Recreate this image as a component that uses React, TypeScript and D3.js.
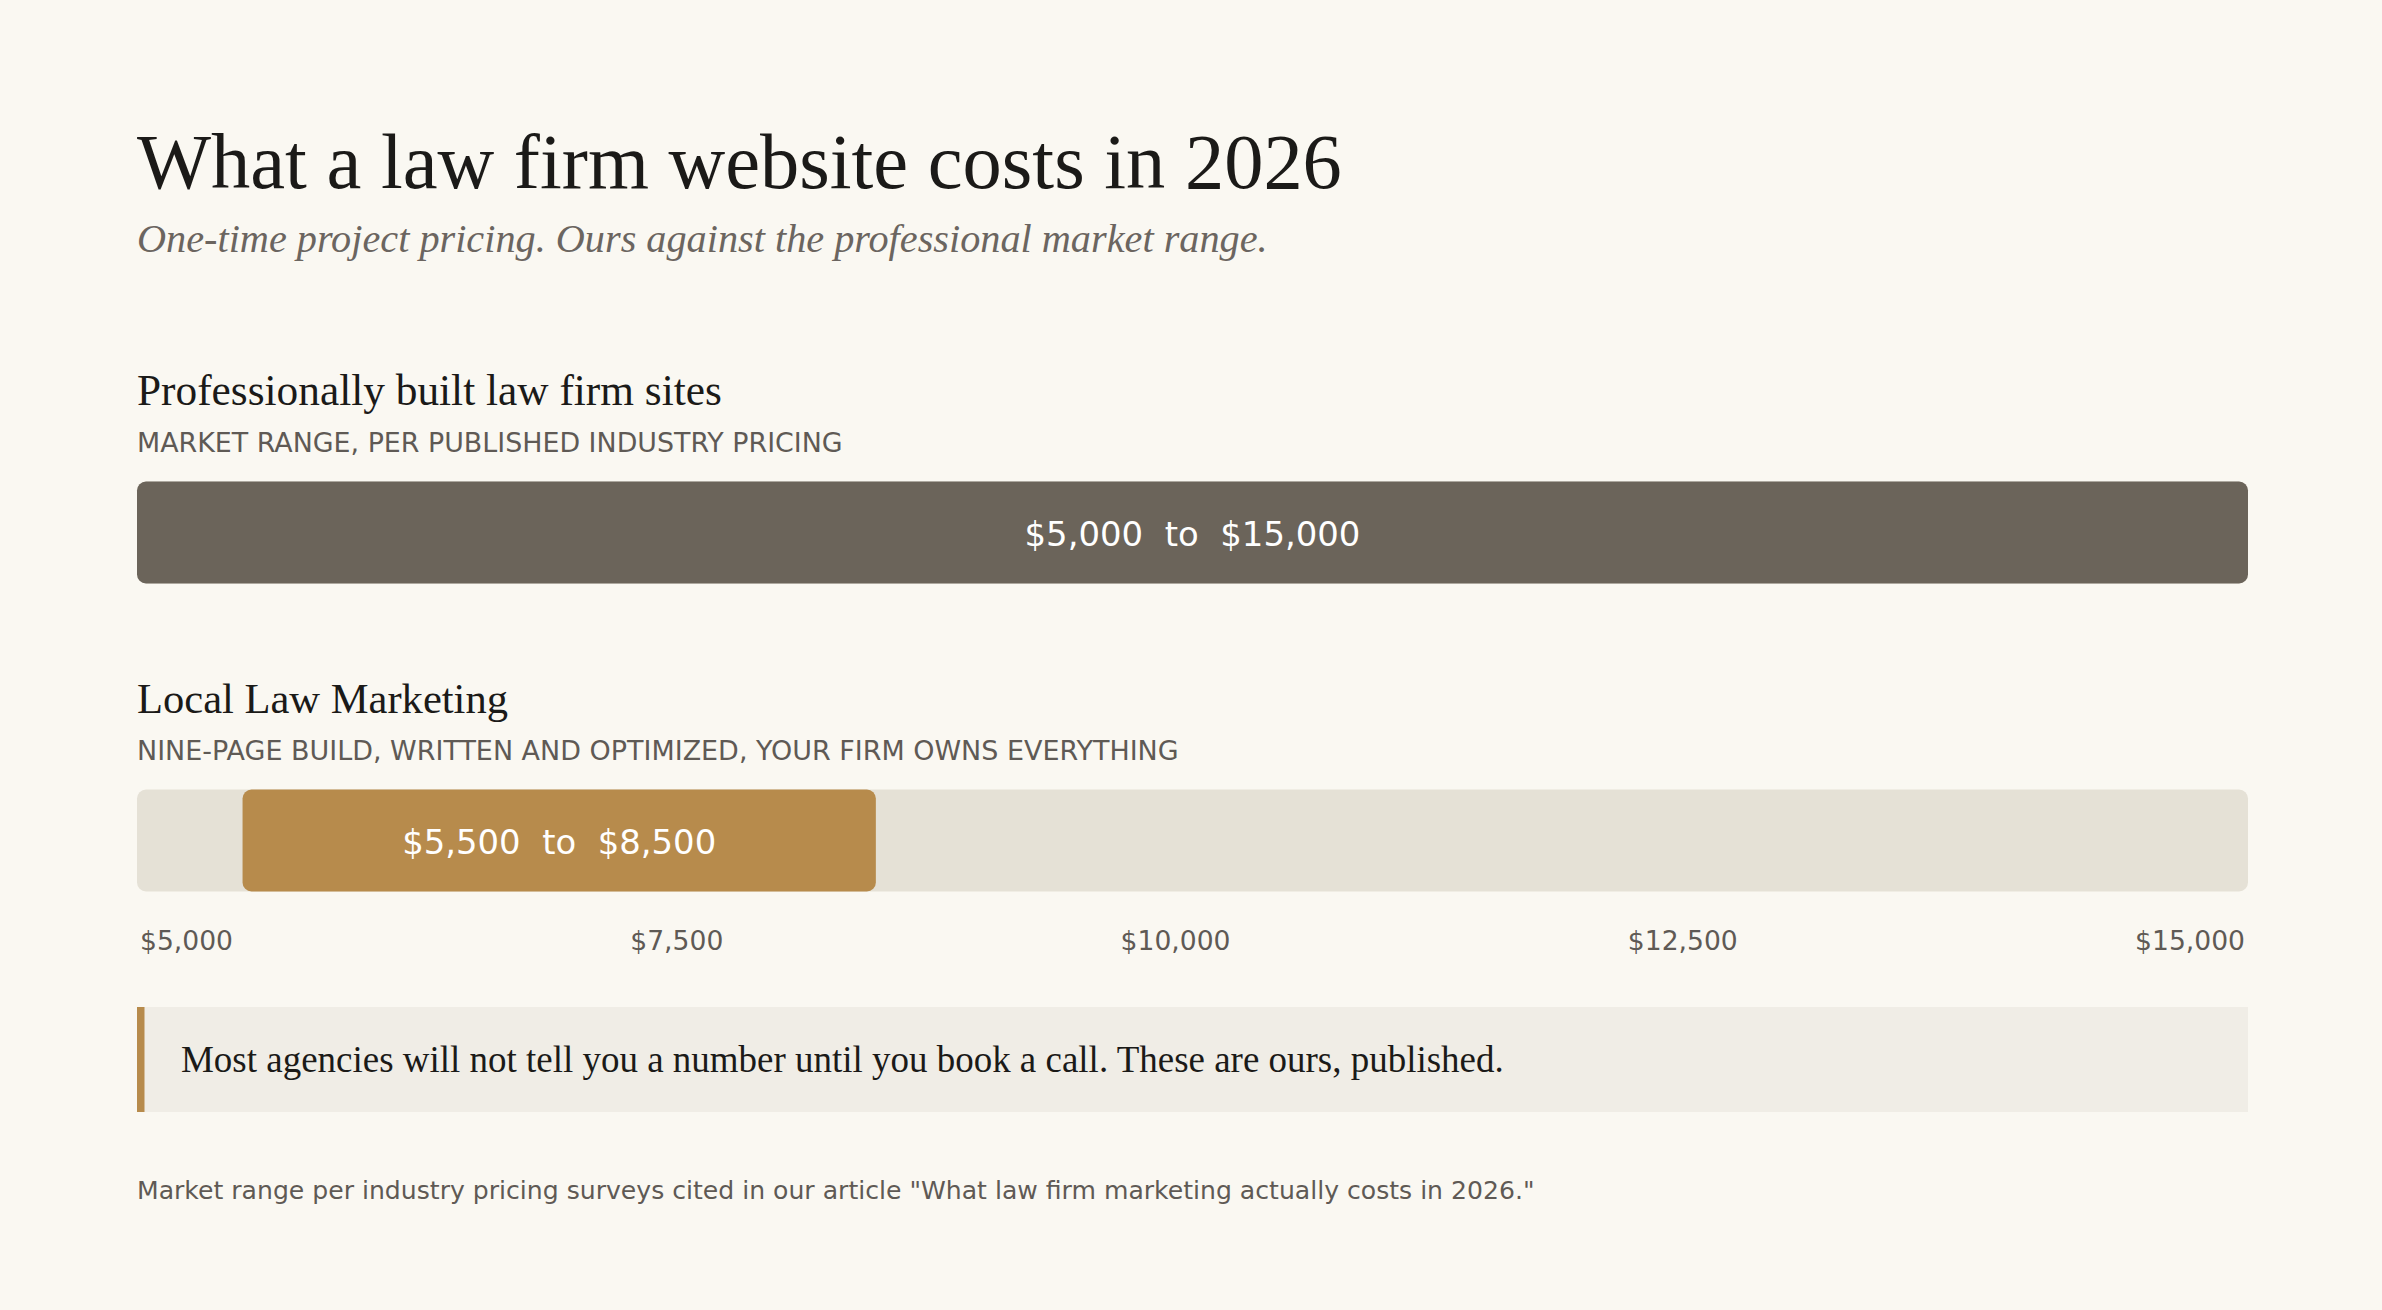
import { useEffect, useRef } from 'react';
import * as d3 from 'd3';

// chart content
const title = 'What a law firm website costs in 2026';
const subtitle = 'One-time project pricing. Ours against the professional market range.';
const rowNames = ['Professionally built law firm sites', 'Local Law Marketing'];
const rowNotes = [
    'MARKET RANGE, PER PUBLISHED INDUSTRY PRICING',
    'NINE-PAGE BUILD, WRITTEN AND OPTIMIZED, YOUR FIRM OWNS EVERYTHING',
];
const rangeLow = [5000, 5500];
const rangeHigh = [15000, 8500];
const axisTicks = [5000, 7500, 10000, 12500, 15000];
const callout = 'Most agencies will not tell you a number until you book a call. These are ours, published.';
const footnote =
    'Market range per industry pricing surveys cited in our article "What law firm marketing actually costs in 2026."';

const W = 2382;
const H = 1310;
const left = 137;
const right = 2248;
const serif = '"Liberation Serif", "DejaVu Serif", serif';
const sans = '"DejaVu Sans", Verdana, sans-serif';
const barFills = ['#6b645a', '#b78b4c'];
const money = d3.format('$,');

// shrink/grow font so the text spans the given width
const fitWidth = (sel: d3.Selection<SVGTextElement, unknown, null, undefined>, width: number) => {
    const node = sel.node();
    if (!node) return;
    const fs = parseFloat(sel.attr('font-size'));
    const w = node.getComputedTextLength();
    if (w > 0) sel.attr('font-size', (fs * width) / w);
};

const App = () => {
    const svgRef = useRef<SVGSVGElement>(null);

    useEffect(() => {
        const svg = d3.select(svgRef.current);
        svg.selectAll('*').remove();

        svg.append('rect').attr('width', W).attr('height', H).attr('fill', '#faf8f2');

        const x = d3.scaleLinear().domain([5000, 15000]).range([left, right]);

        const addText = (
            txt: string,
            px: number,
            py: number,
            size: number,
            family: string,
            fill: string,
            width?: number
        ) => {
            const t = svg
                .append('text')
                .attr('x', px)
                .attr('y', py)
                .attr('font-size', size)
                .attr('font-family', family)
                .attr('fill', fill)
                .text(txt);
            if (width) fitWidth(t, width);
            return t;
        };

        addText(title, left, 188, 76, serif, '#1b1a18', 1205);
        addText(subtitle, left, 252, 36, serif, '#6b6560', 1118).attr('font-style', 'italic');

        const rowTop = [0, 308];
        const headW = [585, 371];
        const noteW = [706, 1042];
        const labelW = [336, 314];
        const barY = 481.5;
        const barH = 102;

        rowNames.forEach((name, i) => {
            const dy = rowTop[i];
            addText(name, left, 405 + dy, 40, serif, '#1b1a18', headW[i]);
            addText(rowNotes[i], left, 452 + dy, 25, sans, '#5f5a55', noteW[i]);

            // track
            svg.append('rect')
                .attr('x', x(5000))
                .attr('y', barY + dy)
                .attr('width', x(15000) - x(5000))
                .attr('height', barH)
                .attr('rx', 9)
                .attr('fill', '#e5e1d6');

            // range bar
            svg.append('rect')
                .attr('x', x(rangeLow[i]))
                .attr('y', barY + dy)
                .attr('width', x(rangeHigh[i]) - x(rangeLow[i]))
                .attr('height', barH)
                .attr('rx', 9)
                .attr('fill', barFills[i]);

            const lbl = svg
                .append('text')
                .attr('x', (x(rangeLow[i]) + x(rangeHigh[i])) / 2)
                .attr('y', barY + dy + barH / 2 + 1)
                .attr('dy', '0.36em')
                .attr('text-anchor', 'middle')
                .attr('font-family', sans)
                .attr('font-size', 32)
                .attr('fill', '#ffffff')
                .style('white-space', 'pre')
                .text(`${money(rangeLow[i])}  to  ${money(rangeHigh[i])}`);
            fitWidth(lbl, labelW[i]);
        });

        // axis labels, spread edge to edge with a small inset
        const inset = 3;
        const ticks = svg
            .append('g')
            .selectAll('text')
            .data(axisTicks)
            .join('text')
            .attr('y', 950)
            .attr('font-family', sans)
            .attr('font-size', 26)
            .attr('fill', '#5f5a55')
            .text(d => money(d));
        const lastNode = ticks.nodes()[axisTicks.length - 1] as SVGTextElement;
        const fs = (26 * 110) / lastNode.getComputedTextLength();
        ticks.attr('font-size', fs);
        const widths = ticks.nodes().map(n => (n as SVGTextElement).getComputedTextLength());
        const span = x(15000) - x(5000) - 2 * inset;
        const gap = (span - d3.sum(widths)) / (axisTicks.length - 1);
        let cursor = x(5000) + inset;
        ticks.attr('x', (_d, i) => {
            const pos = cursor;
            cursor += widths[i] + gap;
            return pos;
        });

        // callout
        svg.append('rect')
            .attr('x', left)
            .attr('y', 1007)
            .attr('width', right - left)
            .attr('height', 105)
            .attr('fill', '#f0ede6');
        svg.append('rect')
            .attr('x', left)
            .attr('y', 1007)
            .attr('width', 7.5)
            .attr('height', 105)
            .attr('fill', '#b78b4c');
        addText(callout, 181, 1072, 33, serif, '#1b1a18', 1323);

        addText(footnote, left, 1199, 25, sans, '#5f5a55', 1398);
    }, []);

    return (
        <svg
            ref={svgRef}
            width={W}
            height={H}
            style={{ position: 'absolute', left: 0, top: 0 }}
        ></svg>
    );
};

export default App;
